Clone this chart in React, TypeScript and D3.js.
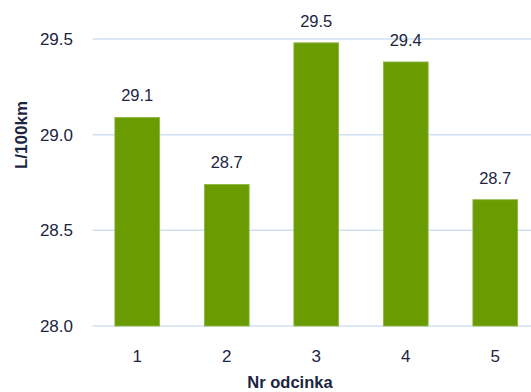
import React from "react";
import * as d3 from "d3";

// Fuel consumption per route segment
const segments = ["1", "2", "3", "4", "5"];
const consumption = [29.09, 28.74, 29.48, 29.38, 28.66];
const yTicks = [28.0, 28.5, 29.0, 29.5];

const W = 531;
const H = 392;
const plot = { left: 92.5, right: 540, top: 39, bottom: 326 };

const FONT = "'Liberation Sans', Arial, sans-serif";
const TEXT = "#1b2541";
const BAR = "#6a9c02";
const GRID = "#d0e0f2";

export default function App() {
  const x = d3
    .scaleBand<string>()
    .domain(segments)
    .range([plot.left, plot.right])
    .paddingInner(0.5)
    .paddingOuter(0.25);
  const y = d3.scaleLinear().domain([28.0, 29.5]).range([plot.bottom, plot.top]);
  const fmt = d3.format(".1f");

  return (
    <svg
      width={W}
      height={H}
      style={{ position: "absolute", left: 0, top: 0, background: "#fff" }}
    >
      {yTicks.map((t) => (
        <g key={t}>
          <line
            x1={plot.left}
            x2={W}
            y1={y(t)}
            y2={y(t)}
            stroke={GRID}
            strokeWidth={1.5}
          />
          <text
            x={73}
            y={y(t)}
            dy="0.36em"
            textAnchor="end"
            fontFamily={FONT}
            fontSize={17}
            fill={TEXT}
          >
            {fmt(t)}
          </text>
        </g>
      ))}
      {segments.map((s, i) => {
        const v = consumption[i];
        const cx = (x(s) as number) + x.bandwidth() / 2;
        return (
          <g key={s}>
            <rect
              x={x(s)}
              y={y(v)}
              width={x.bandwidth()}
              height={y(28.0) - y(v)}
              fill={BAR}
              stroke="#8cb640"
              strokeWidth={0.8}
            />
            <text
              x={cx}
              y={y(v) - 16}
              textAnchor="middle"
              fontFamily={FONT}
              fontSize={16.5}
              fill={TEXT}
            >
              {fmt(v)}
            </text>
            <text
              x={cx}
              y={362}
              textAnchor="middle"
              fontFamily={FONT}
              fontSize={17}
              fill={TEXT}
            >
              {s}
            </text>
          </g>
        );
      })}
      <text
        transform="translate(27,135) rotate(-90)"
        textAnchor="middle"
        fontFamily={FONT}
        fontSize={17}
        fontWeight="bold"
        fill={TEXT}
      >
        L/100km
      </text>
      <text
        x={290}
        y={388}
        textAnchor="middle"
        fontFamily={FONT}
        fontSize={16.5}
        fontWeight="bold"
        fill={TEXT}
      >
        Nr odcinka
      </text>
    </svg>
  );
}
